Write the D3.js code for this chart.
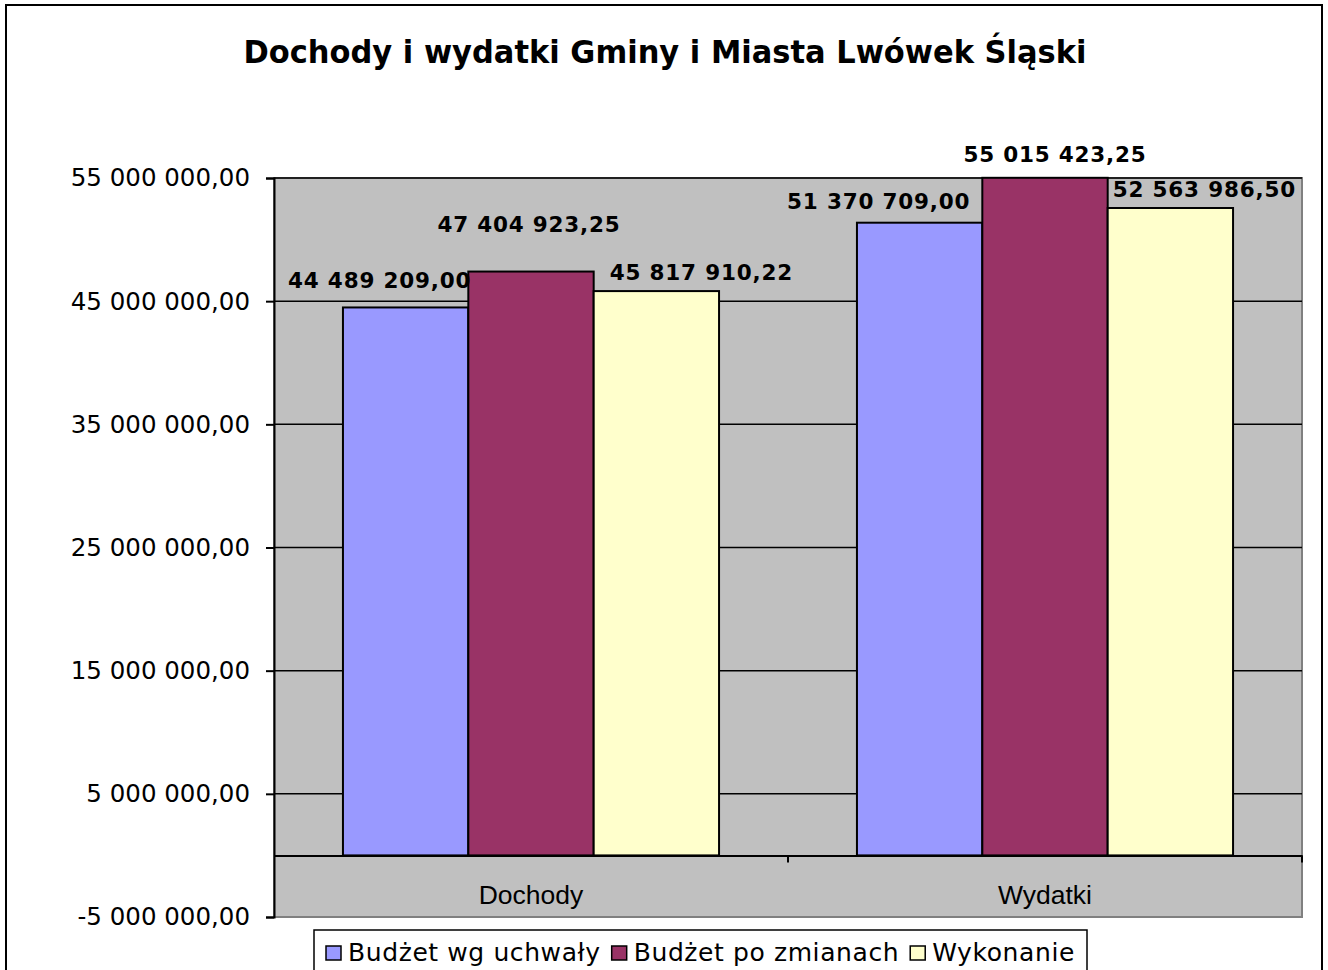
<!DOCTYPE html>
<html>
<head>
<meta charset="utf-8">
<script src="https://cdn.jsdelivr.net/npm/d3@7"></script>
<style>
  body { margin: 0; background: #fff; }
  svg { display: block; }
</style>
</head>
<body>
<div id="chart"></div>
<script>
// Data
const categories = ['Dochody', 'Wydatki']
const seriesNames = ['Budżet wg uchwały', 'Budżet po zmianach', 'Wykonanie']
const budzetUchwala = [44489209.00, 51370709.00]
const budzetZmiany = [47404923.25, 55015423.25]
const wykonanie = [45817910.22, 52563986.50]
const yTicks = [-5000000, 5000000, 15000000, 25000000, 35000000, 45000000, 55000000]
const title = 'Dochody i wydatki Gminy i Miasta Lwówek Śląski'

// label nudges (Excel moved the labels so they don't collide)
const labelDx = [[-26, -2, 45], [-41, 10, 34]]
const labelDy = [[-19, -40, -11], [-14, -16, -11]]

const colours = ['#9999FF', '#993366', '#FFFFCC']

// Dimensions
let dimensions = {
  width: 1328,
  height: 970,
  left: 274,
  right: 1302,
  top: 178,
  bottom: 917
}

const fmt = d3.formatLocale({
  decimal: ',',
  thousands: '\u00a0',
  grouping: [3],
  currency: ['', ''],
  minus: '-'
}).format(',.2f')

const seriesValues = [budzetUchwala, budzetZmiany, wykonanie]
const rows = categories.map((c, i) => ({
  cat: c,
  values: seriesValues.map((s, j) => ({ series: j, value: s[i], cat: i }))
}))

// Drawing elements
const svg = d3.select('#chart')
  .append('svg')
    .attr('width', dimensions.width)
    .attr('height', dimensions.height)

// outer chart border
svg.append('rect')
  .attr('x', 6)
  .attr('y', 5)
  .attr('width', 1316)
  .attr('height', 1000)
  .attr('fill', '#fff')
  .attr('stroke', '#000')
  .attr('stroke-width', 2)

// Scales
const yScale = d3.scaleLinear()
  .domain([-5000000, 55000000])
  .range([dimensions.bottom, dimensions.top])

const x0 = d3.scaleBand()
  .domain(categories)
  .range([dimensions.left, dimensions.right])

const x1 = d3.scaleBand()
  .domain([0, 1, 2])
  .range([0, x0.bandwidth()])
  .paddingOuter(0.55)

// plot area
svg.append('rect')
  .attr('x', dimensions.left)
  .attr('y', dimensions.top)
  .attr('width', dimensions.right - dimensions.left)
  .attr('height', dimensions.bottom - dimensions.top)
  .attr('fill', '#C0C0C0')
  .attr('stroke', '#808080')
  .attr('stroke-width', 2)

// gridlines
svg.append('g')
  .selectAll('line')
  .data(yTicks.filter(d => d > -5000000))
  .join('line')
  .attr('x1', dimensions.left)
  .attr('x2', dimensions.right)
  .attr('y1', d => yScale(d))
  .attr('y2', d => yScale(d))
  .attr('stroke', '#000')
  .attr('stroke-width', 1.5)

// y axis
const yAxis = d3.axisLeft(yScale)
  .tickValues(yTicks)
  .tickSize(8)
  .tickPadding(16)
  .tickFormat(fmt)

const yG = svg.append('g')
  .attr('transform', `translate(${dimensions.left},0)`)
  .call(yAxis)
yG.select('.domain').attr('stroke', '#000').attr('stroke-width', 2)
yG.selectAll('.tick line').attr('stroke', '#000').attr('stroke-width', 2)
yG.selectAll('.tick text')
  .attr('fill', '#000')
  .style('font-family', 'DejaVu Sans, Verdana, sans-serif')
  .style('font-size', '24.5px')

// bars
const groups = svg.append('g')
  .selectAll('g')
  .data(rows)
  .join('g')
  .attr('transform', d => `translate(${x0(d.cat)},0)`)

groups.selectAll('rect')
  .data(d => d.values)
  .join('rect')
  .attr('x', d => x1(d.series))
  .attr('y', d => yScale(d.value))
  .attr('width', x1.bandwidth())
  .attr('height', d => yScale(0) - yScale(d.value))
  .attr('fill', d => colours[d.series])
  .attr('stroke', '#000')
  .attr('stroke-width', 2)

// data labels
groups.selectAll('text')
  .data(d => d.values)
  .join('text')
  .attr('x', d => x1(d.series) + x1.bandwidth() / 2 + labelDx[d.cat][d.series])
  .attr('y', d => yScale(d.value) + labelDy[d.cat][d.series])
  .attr('text-anchor', 'middle')
  .style('font-family', 'DejaVu Sans, Verdana, sans-serif')
  .style('font-weight', 'bold')
  .style('font-size', '21.5px')
  .style('letter-spacing', '0.8px')
  .text(d => fmt(d.value))

// category axis at zero
const xAxis = d3.axisBottom(x0).tickSize(0).tickFormat('')
const xG = svg.append('g')
  .attr('transform', `translate(0,${yScale(0)})`)
  .call(xAxis)
xG.select('.domain').attr('stroke', '#000').attr('stroke-width', 2)

// tick marks between categories
svg.append('g')
  .selectAll('line')
  .data(categories.slice(1).concat(['end']))
  .join('line')
  .attr('x1', d => d === 'end' ? dimensions.right : x0(d))
  .attr('x2', d => d === 'end' ? dimensions.right : x0(d))
  .attr('y1', yScale(0))
  .attr('y2', yScale(0) + 7)
  .attr('stroke', '#000')
  .attr('stroke-width', 2)

svg.append('g')
  .selectAll('text')
  .data(categories)
  .join('text')
  .attr('x', d => x0(d) + x0.bandwidth() / 2)
  .attr('y', 904)
  .attr('text-anchor', 'middle')
  .style('font-family', 'Liberation Sans, Arial, sans-serif')
  .style('font-size', '26.5px')
  .text(d => d)

// title
svg.append('text')
  .attr('x', 665)
  .attr('y', 63)
  .attr('text-anchor', 'middle')
  .attr('textLength', 843)
  .attr('lengthAdjust', 'spacingAndGlyphs')
  .style('font-family', 'DejaVu Sans, Verdana, sans-serif')
  .style('font-weight', 'bold')
  .style('font-size', '32px')
  .text(title)

// legend
const legend = svg.append('g')
legend.append('rect')
  .attr('x', 314)
  .attr('y', 930)
  .attr('width', 773)
  .attr('height', 60)
  .attr('fill', '#fff')
  .attr('stroke', '#000')
  .attr('stroke-width', 1.5)

let lx = 326
seriesNames.forEach((name, i) => {
  legend.append('rect')
    .attr('x', lx)
    .attr('y', 946)
    .attr('width', 15)
    .attr('height', 14)
    .attr('fill', colours[i])
    .attr('stroke', '#000')
    .attr('stroke-width', 1.5)
  const t = legend.append('text')
    .attr('x', lx + 22)
    .attr('y', 961)
    .style('font-family', 'DejaVu Sans, Verdana, sans-serif')
    .style('font-size', '25px')
    .style('letter-spacing', '0.6px')
    .text(name)
  lx += 22 + t.node().getComputedTextLength() + 11
})
</script>
</body>
</html>
